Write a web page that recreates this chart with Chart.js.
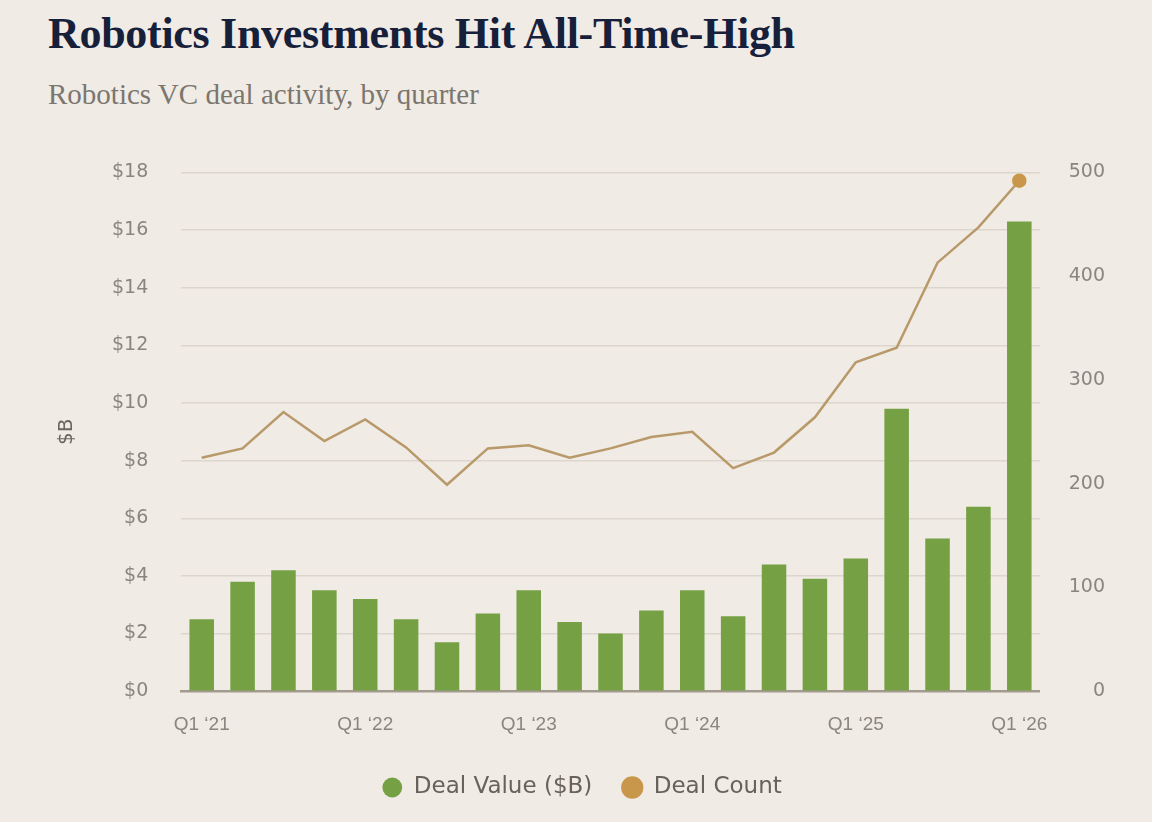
<!DOCTYPE html>
<html>
<head>
<meta charset="utf-8">
<script src="https://cdn.jsdelivr.net/npm/chart.js@4.4.1/dist/chart.umd.min.js"></script>
<style>
  body { margin: 0; background: #f0ebe4; width: 1152px; height: 822px; overflow: hidden; position: relative; }
  #title { position: absolute; left: 48px; top: 12px; font: bold 44px "Liberation Serif", serif; line-height: 1; color: #17203a; letter-spacing: -0.3px; white-space: nowrap; }
  #subtitle { position: absolute; left: 48px; top: 80px; font: 29px "Liberation Serif", serif; line-height: 1; color: #7b766f; white-space: nowrap; }
  #wrap { position: absolute; left: 0; top: 128px; width: 1152px; height: 694px; }
</style>
</head>
<body>
<div id="title">Robotics Investments Hit All-Time-High</div>
<div id="subtitle">Robotics VC deal activity, by quarter</div>
<div id="wrap"><canvas id="chart"></canvas></div>
<script>
// quarters Q1 '21 .. Q1 '26
var quarters = [
  "Q1 \u201821", "Q2 \u201821", "Q3 \u201821", "Q4 \u201821",
  "Q1 \u201822", "Q2 \u201822", "Q3 \u201822", "Q4 \u201822",
  "Q1 \u201823", "Q2 \u201823", "Q3 \u201823", "Q4 \u201823",
  "Q1 \u201824", "Q2 \u201824", "Q3 \u201824", "Q4 \u201824",
  "Q1 \u201825", "Q2 \u201825", "Q3 \u201825", "Q4 \u201825",
  "Q1 \u201826"
];
var dealValue = [2.5, 3.8, 4.2, 3.5, 3.2, 2.5, 1.7, 2.7, 3.5, 2.4, 2.0, 2.8, 3.5, 2.6, 4.4, 3.9, 4.6, 9.8, 5.3, 6.4, 16.3];
var dealCount = [225, 234, 269, 241, 262, 235, 199, 234, 237, 225, 234, 245, 250, 215, 230, 264, 317, 331, 413, 447, 492];

var green = '#75a044';
var gold = '#c9974b';
var tickColor = '#8b8580';
var tickFont = { family: '"DejaVu Sans", sans-serif', size: 19 };

// only the last point of the line gets a marker
var pointSizes = dealCount.map(function(v, i) { return i === dealCount.length - 1 ? 6 : 0; });

// nudge the legend a little right so it sits where the original has it
var legendShift = {
  id: 'legendShift',
  afterLayout: function(c) { c.legend.left += 8; c.legend.right += 8; }
};

var ctx = document.getElementById('chart').getContext('2d');
var chart = new Chart(ctx, {
  type: 'bar',
  data: {
    labels: quarters,
    datasets: [{
        type: 'line',
        label: 'Deal Count',
        data: dealCount,
        yAxisID: 'y1',
        borderColor: '#b8996a',
        backgroundColor: gold,
        pointBackgroundColor: gold,
        pointBorderColor: gold,
        pointRadius: pointSizes,
        pointStyle: 'circle',
        borderWidth: 2.5,
        tension: 0,
        order: 0
      },
      {
        label: 'Deal Value ($B)',
        data: dealValue,
        yAxisID: 'y',
        backgroundColor: green,
        barPercentage: 0.6,
        categoryPercentage: 1.0,
        pointStyle: 'circle',
        order: 1
      }
    ]
  },
  plugins: [legendShift],
  options: {
    responsive: true,
    maintainAspectRatio: false,
    animation: false,
    layout: { padding: { top: 10, left: 43, right: 47, bottom: 13 } },
    plugins: {
      legend: {
        position: 'bottom',
        reverse: true,
        labels: {
          usePointStyle: true,
          boxWidth: 20,
          boxHeight: 14,
          padding: 30,
          color: '#67625c',
          font: { family: '"DejaVu Sans", sans-serif', size: 23 }
        }
      },
      tooltip: { enabled: false }
    },
    scales: {
      x: {
        grid: { display: false },
        border: { display: true, color: '#a39b90', width: 2.5 },
        afterFit: function(scale) { scale.height -= 4; },
        ticks: {
          autoSkip: false,
          maxRotation: 0,
          padding: 14,
          color: tickColor,
          font: { family: '"Liberation Sans", sans-serif', size: 19 },
          callback: function(val, i) { return i % 4 === 0 ? quarters[i] : ''; }
        }
      },
      y: {
        position: 'left',
        min: 0,
        max: 18,
        ticks: {
          stepSize: 2,
          padding: 33,
          color: tickColor,
          font: tickFont,
          callback: function(v) { return '$' + v; }
        },
        grid: {
          color: function(c) { return c.tick && c.tick.value === 0 ? 'rgba(0,0,0,0)' : '#ddd6cc'; },
          lineWidth: 1.5,
          drawTicks: false
        },
        border: { display: false },
        title: {
          display: true,
          text: '$B',
          color: '#6a655f',
          font: { family: '"DejaVu Sans", sans-serif', size: 20 },
          padding: { top: 12, bottom: 0 }
        }
      },
      y1: {
        position: 'right',
        min: 0,
        max: 500,
        afterFit: function(scale) { scale.width -= 21; },
        ticks: {
          stepSize: 100,
          padding: 25,
          crossAlign: 'far',
          color: tickColor,
          font: tickFont
        },
        grid: { display: false, drawTicks: false },
        border: { display: false }
      }
    }
  }
});
</script>
</body>
</html>
